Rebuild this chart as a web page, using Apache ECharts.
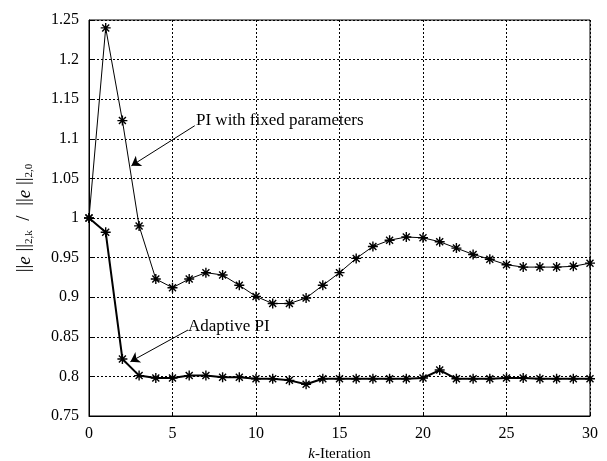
<!DOCTYPE html>
<html>
<head>
<meta charset="utf-8">
<script src="https://cdn.jsdelivr.net/npm/echarts@6/dist/echarts.min.js"></script>
<style>
  html, body { margin: 0; padding: 0; background: #fff; }
  #main { width: 607px; height: 461px; }
</style>
</head>
<body>
<div id="main"></div>
<script>
// iteration index k
var kIter = [0, 1, 2, 3, 4, 5, 6, 7, 8, 9, 10, 11, 12, 13, 14, 15,
  16, 17, 18, 19, 20, 21, 22, 23, 24, 25, 26, 27, 28, 29, 30];
// PI with fixed parameters
var fixedPI = [1.0, 1.24, 1.123, 0.99, 0.923, 0.912, 0.923, 0.931, 0.928, 0.915, 0.901,
  0.892, 0.892, 0.899, 0.915, 0.931, 0.949, 0.964, 0.972, 0.976, 0.975,
  0.970, 0.962, 0.954, 0.948, 0.941, 0.938, 0.938, 0.938, 0.939, 0.943];
// Adaptive PI
var adaptivePI = [1.0, 0.982, 0.822, 0.801, 0.798, 0.798, 0.801, 0.801, 0.799, 0.799, 0.797,
  0.797, 0.795, 0.790, 0.797, 0.797, 0.797, 0.797, 0.797, 0.797, 0.798,
  0.808, 0.797, 0.797, 0.797, 0.798, 0.798, 0.797, 0.797, 0.797, 0.797];
var yTicks = [0.75, 0.8, 0.85, 0.9, 0.95, 1, 1.05, 1.1, 1.15, 1.2, 1.25];

var font = 'Liberation Serif';
// asterisk marker like matlab '*'
var star = 'path://M0 5L10 5M5 0L5 10M1.5 1.5L8.5 8.5M8.5 1.5L1.5 8.5';

function pairs(ys) {
  return kIter.map(function (k, i) { return [k, ys[i]]; });
}

var myChart = echarts.init(document.getElementById('main'));
var option = {
  animation: false,
  backgroundColor: '#fff',
  grid: { left: 89, right: 17, top: 20, bottom: 45, outerBoundsMode: 'none', containLabel: false,
    show: true, borderColor: '#000', borderWidth: 1 },
  xAxis: {
    type: 'value', min: 0, max: 30, interval: 5,
    name: '{i|k}-Iteration', nameLocation: 'middle', nameGap: 31,
    nameTextStyle: { fontFamily: font, fontSize: 15, color: '#000',
      rich: { i: { fontFamily: font, fontSize: 15, fontStyle: 'italic', color: '#000' } } },
    axisLine: { lineStyle: { color: '#000', width: 1 } },
    axisTick: { inside: true, length: 4, lineStyle: { color: '#000' } },
    axisLabel: { fontFamily: font, fontSize: 16, color: '#000', margin: 10 },
    splitLine: { show: true, lineStyle: { color: '#000', type: [2, 2], width: 1 } }
  },
  yAxis: {
    type: 'value', min: yTicks[0], max: yTicks[yTicks.length - 1], interval: 0.05,
    name: '||{i|e} ||{s|2,k}  /  ||{i|e} ||{s|2,0}', nameLocation: 'middle', nameGap: 54, nameRotate: 90,
    nameTextStyle: { fontFamily: font, fontSize: 19, color: '#000',
      rich: {
        i: { fontFamily: font, fontSize: 19, fontStyle: 'italic', color: '#000' },
        s: { fontFamily: font, fontSize: 11, color: '#000', verticalAlign: 'bottom', padding: [10, 0, 0, 0] }
      } },
    axisLine: { show: true, lineStyle: { color: '#000', width: 1 } },
    axisTick: { inside: true, length: 4, lineStyle: { color: '#000' } },
    axisLabel: { fontFamily: font, fontSize: 16, color: '#000', margin: 10 },
    splitLine: { show: true, lineStyle: { color: '#000', type: [2, 2], width: 1 } }
  },
  series: [
    {
      name: 'PI with fixed parameters', type: 'line', data: pairs(fixedPI),
      symbol: star, symbolSize: 10,
      lineStyle: { color: '#000', width: 1 },
      itemStyle: { color: '#000', borderColor: '#000', borderWidth: 1.4 },
      markLine: {
        silent: true, symbol: ['none', 'arrow'], symbolSize: 9,
        lineStyle: { color: '#000', width: 1, type: 'solid' },
        label: { show: false },
        data: [[{ coord: [6.33, 1.1165] }, { coord: [2.54, 1.066] }]]
      },
      z: 3
    },
    {
      name: 'Adaptive PI', type: 'line', data: pairs(adaptivePI),
      symbol: star, symbolSize: 10,
      lineStyle: { color: '#000', width: 2 },
      itemStyle: { color: '#000', borderColor: '#000', borderWidth: 1.4 },
      markLine: {
        silent: true, symbol: ['none', 'arrow'], symbolSize: 9,
        lineStyle: { color: '#000', width: 1, type: 'solid' },
        label: { show: false },
        data: [[{ coord: [5.93, 0.8586] }, { coord: [2.48, 0.8186] }]]
      },
      z: 4
    }
  ],
  graphic: [
    { type: 'text', left: 196, top: 112,
      style: { text: 'PI with fixed parameters', fontFamily: font, fontSize: 17, fill: '#000' } },
    { type: 'text', left: 188, top: 318,
      style: { text: 'Adaptive PI', fontFamily: font, fontSize: 17, fill: '#000' } }
  ]
};
myChart.setOption(option);
</script>
</body>
</html>
